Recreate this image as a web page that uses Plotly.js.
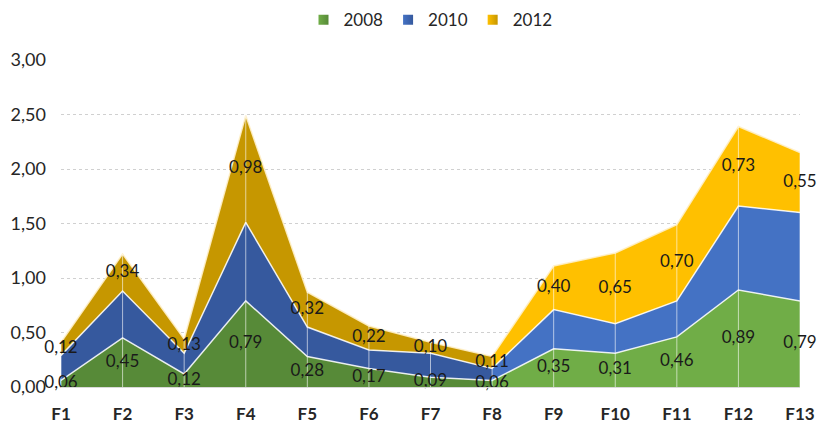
<!DOCTYPE html>
<html>
<head>
<meta charset="utf-8">
<script src="https://cdn.plot.ly/plotly-3.0.1.min.js"></script>
<style>html,body{margin:0;padding:0;background:#fff;}#chart{width:819px;height:423px;}</style>
</head>
<body>
<div id="chart"></div>
<script>
const categories = ['F1','F2','F3','F4','F5','F6','F7','F8','F9','F10','F11','F12','F13'];
const values2008 = [0.06,0.45,0.12,0.79,0.28,0.17,0.09,0.06,0.35,0.31,0.46,0.89,0.79];
const values2010 = [0.23,0.43,0.19,0.72,0.27,0.17,0.22,0.11,0.36,0.27,0.33,0.77,0.81];
const values2012 = [0.12,0.34,0.13,0.98,0.32,0.22,0.10,0.11,0.40,0.65,0.70,0.73,0.55];
const yTicks = [0,0.5,1,1.5,2,2.5,3];

const stepAt = 7/12;
function grad(dark, light){
  return {type:'horizontal', start:0, stop:categories.length-1,
    colorscale:[[0,dark],[stepAt-0.0005,dark],[stepAt+0.0005,light],[1,light]]};
}
const series = [
  {name:'2008', v:values2008, dark:'#578A38', light:'#70AD47'},
  {name:'2010', v:values2010, dark:'#36599E', light:'#4472C4'},
  {name:'2012', v:values2012, dark:'#C69700', light:'#FFC000'}
];
const traces = series.map((s,i)=>({
  type:'scatter', mode:'lines', name:s.name, x:categories, y:s.v, showlegend:false,
  stackgroup:'one', line:{color: i===2 ? 'rgba(255,240,200,0.9)' : 'rgba(255,255,255,0.85)', width:1.5},
  fillcolor:s.light, fillgradient:grad(s.dark, s.light), hoverinfo:'skip'
}));

// legend-only square markers
series.forEach(s=>{
  traces.push({type:'scatter', mode:'markers', name:s.name, x:[null], y:[null], showlegend:true,
    marker:{symbol:'square', size:10, color:s.light, gradient:{type:'horizontal', color:s.dark}}, hoverinfo:'skip'});
});

const c1 = values2008.slice();
const c2 = values2008.map((v,i)=>v+values2010[i]);
const c3 = c2.map((v,i)=>v+values2012[i]);

const dx=[], dy=[];
categories.forEach((c,i)=>{dx.push(c,c,null); dy.push(0,c3[i],null);});
traces.push({type:'scatter', mode:'lines', x:dx, y:dy, line:{color:'rgba(255,255,255,0.6)', width:1}, showlegend:false, hoverinfo:'skip'});

const FONT = 'Lato, "Liberation Sans", sans-serif';
const fmt = v => v.toFixed(2).replace('.',',');
const lblFont = {family:FONT, size:17, color:'#1a1a1a'};
traces.push({type:'scatter', mode:'text', x:categories, y:c1.map(v=>v/2), text:values2008.map(fmt), cliponaxis:false,
  textposition:'middle center', textfont:lblFont, showlegend:false, hoverinfo:'skip'});
traces.push({type:'scatter', mode:'text', x:categories, y:c2.map((v,i)=>v+values2012[i]/2), text:values2012.map(fmt), cliponaxis:false,
  textposition:'middle center', textfont:lblFont, showlegend:false, hoverinfo:'skip'});

const layout = {
  width:819, height:423,
  margin:{l:61, r:19, t:60, b:36},
  paper_bgcolor:'#fff', plot_bgcolor:'#fff',
  separators:',.',
  showlegend:true,
  legend:{orientation:'h', traceorder:'normal', x:0.5, xanchor:'center', y:0.995, yref:'container', yanchor:'top',
    font:{family:FONT, size:17, color:'#262626'}, itemwidth:14, tracegroupgap:0},
  xaxis:{type:'category', range:[0,categories.length-1], showgrid:false, zeroline:false,
    showline:true, linecolor:'#d9d9d9', ticks:'', ticklabelstandoff:12,
    tickfont:{family:FONT, size:17, color:'#262626', weight:'bold'}},
  yaxis:{range:[0,3], tickvals:yTicks, tickformat:'.2f', showgrid:true, gridcolor:'#d0d0d0', griddash:'dot',
    zeroline:false, showline:false, ticks:'', ticklabelstandoff:14,
    tickfont:{family:FONT, size:18, color:'#262626'}}
};
Plotly.newPlot('chart', traces, layout, {displayModeBar:false, staticPlot:true});
</script>
</body>
</html>
